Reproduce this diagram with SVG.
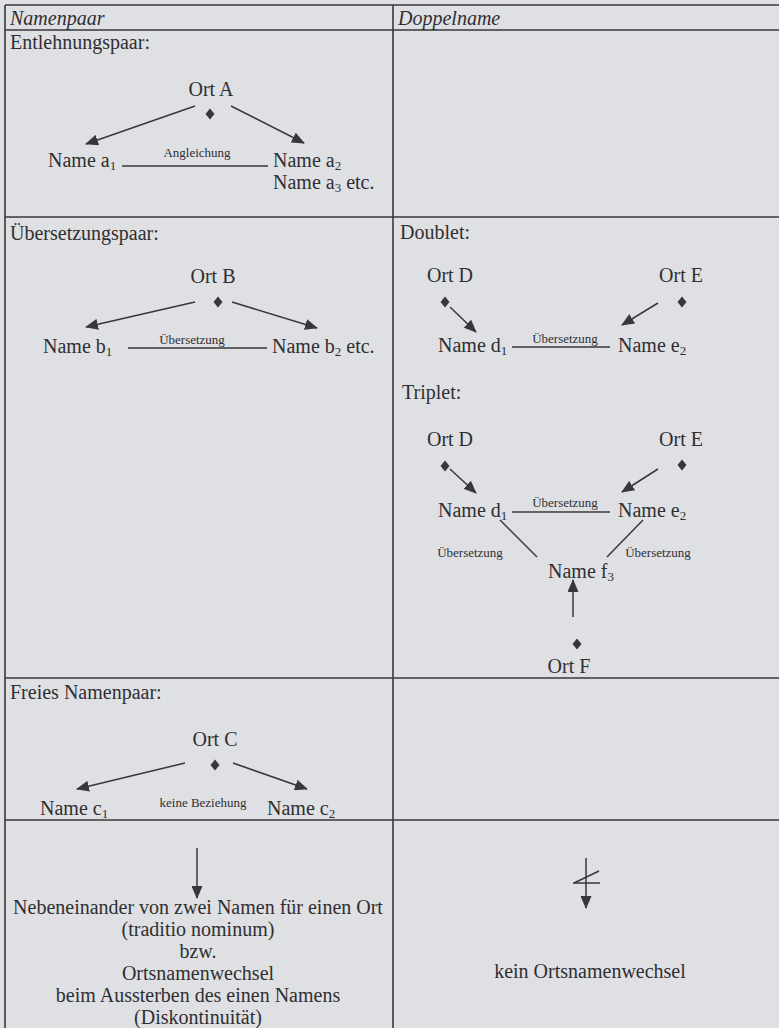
<svg xmlns="http://www.w3.org/2000/svg" width="779" height="1028" viewBox="0 0 779 1028">
  <defs>
    <style>
      text { font-family: "Liberation Serif", "Times New Roman", serif; fill: #2f2f31; }
      .t { font-size: 20px; }
      .h { font-size: 20px; font-style: italic; }
      .s { font-size: 13px; }
      .c { text-anchor: middle; }
      .sub { font-size: 13px; }
      .rule { stroke: #38383a; stroke-width: 1.6; fill: none; }
      .edge { stroke: #38383a; stroke-width: 1.5; fill: none; }
      .arrow { stroke: #38383a; stroke-width: 1.5; fill: none; marker-end: url(#ah); }
      .dot { fill: #38383a; }
    </style>
    <marker id="ah" markerWidth="13" markerHeight="11" refX="12" refY="5.5" orient="auto" markerUnits="userSpaceOnUse">
      <path d="M0,0 L13,5.5 L0,11 z" fill="#38383a"/>
    </marker>
    <path id="diamond" d="M0,-5.5 L4.5,0 L0,5.5 L-4.5,0 z"/>
  </defs>

  <!-- paper -->
  <rect x="0" y="0" width="779" height="1028" fill="#dfe0e4"/>

  <!-- table grid -->
  <g id="table">
    <line class="rule" x1="5" y1="5" x2="779" y2="5"/>
    <line class="rule" x1="5" y1="30" x2="779" y2="30"/>
    <line class="rule" x1="5" y1="217" x2="779" y2="217"/>
    <line class="rule" x1="5" y1="678" x2="779" y2="678"/>
    <line class="rule" x1="5" y1="820" x2="779" y2="820"/>
    <line class="rule" x1="5" y1="5" x2="5" y2="1028"/>
    <line class="rule" x1="393" y1="5" x2="393" y2="1028"/>
    <text class="h" x="10" y="25">Namenpaar</text>
    <text class="h" x="398" y="25">Doppelname</text>
    <text class="t" x="10" y="49">Entlehnungspaar:</text>
    <text class="t" x="10" y="240">Übersetzungspaar:</text>
    <text class="t" x="400" y="239">Doublet:</text>
    <text class="t" x="402" y="399">Triplet:</text>
    <text class="t" x="10" y="699">Freies Namenpaar:</text>
  </g>

  <!-- connectors -->
  <g id="connectors">
    <!-- Entlehnungspaar -->
    <line class="arrow" x1="195" y1="106" x2="86" y2="144"/>
    <line class="arrow" x1="231" y1="106" x2="304" y2="143"/>
    <line class="edge" x1="122" y1="166" x2="268" y2="166"/>
    <!-- Übersetzungspaar -->
    <line class="arrow" x1="195" y1="302" x2="86" y2="327"/>
    <line class="arrow" x1="232" y1="302" x2="317" y2="328"/>
    <line class="edge" x1="128" y1="348" x2="267" y2="348"/>
    <!-- Doublet -->
    <line class="arrow" x1="450" y1="307" x2="476" y2="332"/>
    <line class="arrow" x1="658" y1="303" x2="622" y2="325"/>
    <line class="edge" x1="512" y1="347" x2="610" y2="347"/>
    <!-- Triplet -->
    <line class="arrow" x1="450" y1="469" x2="476" y2="493"/>
    <line class="arrow" x1="658" y1="469" x2="622" y2="492"/>
    <line class="edge" x1="512" y1="512" x2="610" y2="512"/>
    <line class="edge" x1="500" y1="520" x2="537" y2="557"/>
    <line class="edge" x1="643" y1="520" x2="607" y2="557"/>
    <line class="arrow" x1="573" y1="617" x2="573" y2="580"/>
    <!-- Freies Namenpaar -->
    <line class="arrow" x1="185" y1="763" x2="77" y2="789"/>
    <line class="arrow" x1="233" y1="763" x2="307" y2="789"/>
    <!-- Folgen -->
    <line class="arrow" x1="197" y1="848" x2="197" y2="898"/>
    <line class="arrow" x1="586" y1="858" x2="586" y2="908"/>
    <line class="edge" x1="573" y1="883" x2="600" y2="883"/>
    <line class="edge" x1="574" y1="883" x2="599" y2="871"/>
  </g>

  <!-- Entlehnungspaar -->
  <g id="ort-a">
    <text class="t c" x="211" y="96">Ort A</text>
    <use href="#diamond" class="dot" x="210" y="114"/>
  </g>
  <g id="name-a1"><text class="t" x="48" y="167">Name a<tspan class="sub" dy="3">1</tspan></text></g>
  <g id="label-angleichung"><text class="s c" x="197" y="157">Angleichung</text></g>
  <g id="name-a2"><text class="t" x="273" y="167">Name a<tspan class="sub" dy="3">2</tspan></text></g>
  <g id="name-a3"><text class="t" x="273" y="189">Name a<tspan class="sub" dy="3">3</tspan><tspan dy="-3"> etc.</tspan></text></g>

  <!-- Übersetzungspaar -->
  <g id="ort-b">
    <text class="t c" x="213" y="283">Ort B</text>
    <use href="#diamond" class="dot" x="218" y="302"/>
  </g>
  <g id="name-b1"><text class="t" x="43" y="353">Name b<tspan class="sub" dy="3">1</tspan></text></g>
  <g id="label-uebersetzung-b"><text class="s c" x="192" y="344">Übersetzung</text></g>
  <g id="name-b2"><text class="t" x="272" y="353">Name b<tspan class="sub" dy="3">2</tspan><tspan dy="-3"> etc.</tspan></text></g>

  <!-- Doublet -->
  <g id="doublet-ort-d">
    <text class="t c" x="450" y="282">Ort D</text>
    <use href="#diamond" class="dot" x="445" y="302"/>
  </g>
  <g id="doublet-ort-e">
    <text class="t c" x="681" y="282">Ort E</text>
    <use href="#diamond" class="dot" x="682" y="302"/>
  </g>
  <g id="doublet-name-d1"><text class="t" x="438" y="352">Name d<tspan class="sub" dy="3">1</tspan></text></g>
  <g id="doublet-label"><text class="s c" x="565" y="343">Übersetzung</text></g>
  <g id="doublet-name-e2"><text class="t" x="618" y="352">Name e<tspan class="sub" dy="3">2</tspan></text></g>

  <!-- Triplet -->
  <g id="triplet-ort-d">
    <text class="t c" x="450" y="446">Ort D</text>
    <use href="#diamond" class="dot" x="445" y="466"/>
  </g>
  <g id="triplet-ort-e">
    <text class="t c" x="681" y="446">Ort E</text>
    <use href="#diamond" class="dot" x="682" y="465"/>
  </g>
  <g id="triplet-name-d1"><text class="t" x="438" y="517">Name d<tspan class="sub" dy="3">1</tspan></text></g>
  <g id="triplet-label-de"><text class="s c" x="565" y="507">Übersetzung</text></g>
  <g id="triplet-name-e2"><text class="t" x="618" y="517">Name e<tspan class="sub" dy="3">2</tspan></text></g>
  <g id="triplet-label-df"><text class="s c" x="470" y="557">Übersetzung</text></g>
  <g id="triplet-label-ef"><text class="s c" x="658" y="557">Übersetzung</text></g>
  <g id="triplet-name-f3"><text class="t" x="548" y="578">Name f<tspan class="sub" dy="3">3</tspan></text></g>
  <g id="triplet-ort-f">
    <use href="#diamond" class="dot" x="577" y="644"/>
    <text class="t c" x="569" y="673">Ort F</text>
  </g>

  <!-- Freies Namenpaar -->
  <g id="ort-c">
    <text class="t c" x="215" y="746">Ort C</text>
    <use href="#diamond" class="dot" x="215" y="765"/>
  </g>
  <g id="name-c1"><text class="t" x="40" y="815">Name c<tspan class="sub" dy="3">1</tspan></text></g>
  <g id="label-keine-beziehung"><text class="s c" x="203" y="807">keine Beziehung</text></g>
  <g id="name-c2"><text class="t" x="267" y="815">Name c<tspan class="sub" dy="3">2</tspan></text></g>

  <!-- Folgen -->
  <g id="folge-namenpaar">
    <text class="t c" x="198" y="914">Nebeneinander von zwei Namen für einen Ort</text>
    <text class="t c" x="198" y="936">(traditio nominum)</text>
    <text class="t c" x="198" y="958">bzw.</text>
    <text class="t c" x="198" y="980">Ortsnamenwechsel</text>
    <text class="t c" x="198" y="1002">beim Aussterben des einen Namens</text>
    <text class="t c" x="198" y="1024">(Diskontinuität)</text>
  </g>
  <g id="folge-doppelname">
    <text class="t c" x="590" y="978">kein Ortsnamenwechsel</text>
  </g>
</svg>
